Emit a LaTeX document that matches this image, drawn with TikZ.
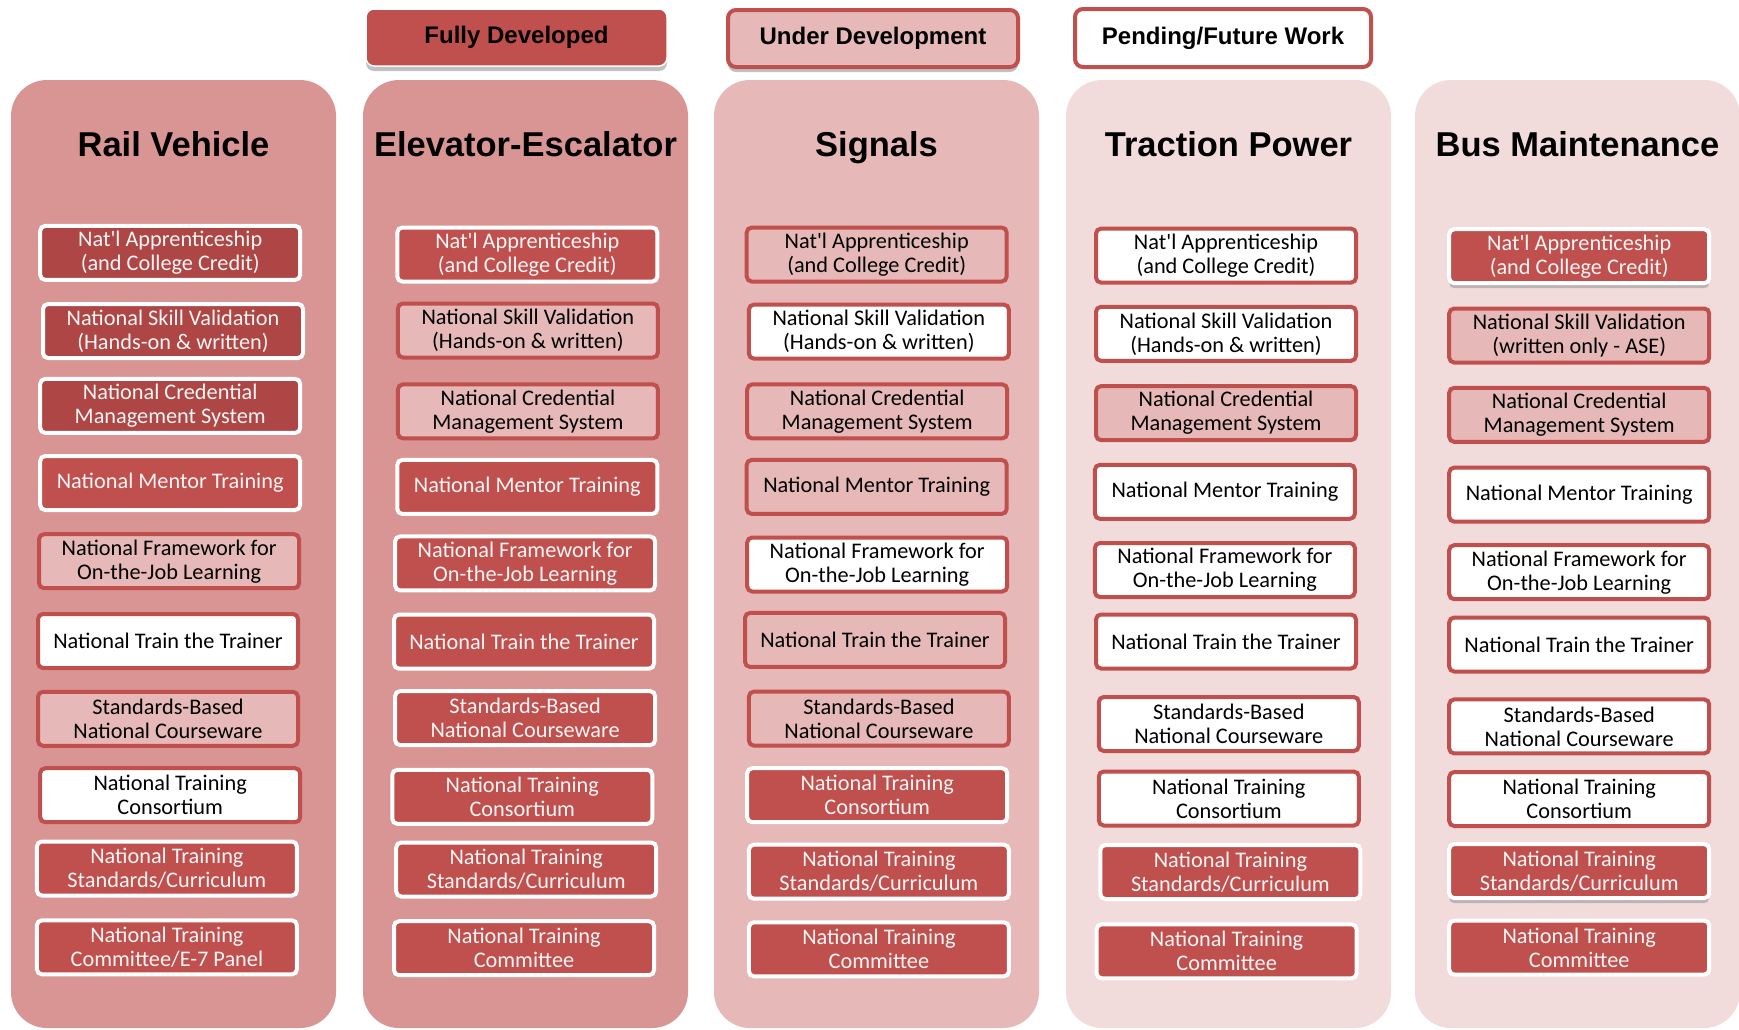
\documentclass[tikz,border=0pt]{standalone}
\usepackage{fontspec}
\setmainfont{Carlito}
\newfontfamily\headfont{Liberation Sans}
\newfontfamily\qfont{Carlito}[Ligatures=TeXOff]
\usetikzlibrary{shadows}
\definecolor{redF}{HTML}{C0504D}
\definecolor{redD}{HTML}{AD4644}
\definecolor{pinkU}{HTML}{E6B9B8}
\definecolor{colA}{HTML}{D99594}
\definecolor{colB}{HTML}{E6B8B7}
\definecolor{colC}{HTML}{F2DCDB}
\newcommand{\apos}{{\qfont'}}
\begin{document}
\begin{tikzpicture}[x=1pt,y=-1pt,
 column/.style={rounded corners=36pt, minimum width=325pt, minimum height=948pt, inner sep=0pt},
 heading/.style={font=\headfont\bfseries\fontsize{34.5}{40}\selectfont, anchor=base, text=black},
 box/.style={rounded corners=5pt, line width=4pt, minimum width=260pt, minimum height=54pt, inner sep=0pt, align=center, font=\fontsize{22.3}{24}\selectfont},
 fullbox/.style={box, fill=redF, draw=white, text=white!96!black},
 darkbox/.style={fullbox, fill=redD},
 devbox/.style={box, fill=pinkU, draw=redF, text=black},
 penbox/.style={box, fill=white, draw=redF, text=black},
 shad/.style={drop shadow={shadow xshift=0pt, shadow yshift=-5pt, fill=black!40, opacity=0.6}},
 legend/.style={rounded corners=8pt, inner sep=0pt, font=\headfont\bfseries\fontsize{24}{28}\selectfont, text=black},
]
\path[use as bounding box] (0,0) rectangle (1739,1029);
\clip (0,0) rectangle (1739,1029);
\fill[white] (0,0) rectangle (1739,1029);

% legend
\node[legend, fill=redF, draw=white, line width=1.5pt, shad, minimum width=301pt, minimum height=57pt] (lf) at (516.5,37.5) {Fully Developed};
\node[legend, fill=pinkU, draw=redF, line width=4pt, shad, minimum width=290pt, minimum height=57pt] (lu) at (873,38.5) {Under Development};
\node[legend, fill=white, draw=redF, line width=4pt, minimum width=296pt, minimum height=58pt] (lp) at (1223,38) {Pending/Future Work};

% columns
\node[column, fill=colA] (c1) at (173.5,554) {};
\node[column, fill=colA] (c2) at (525.5,554) {};
\node[column, fill=colB] (c3) at (876.5,554) {};
\node[column, fill=colC] (c4) at (1228.5,554) {};
\node[column, fill=colC] (c5) at (1577.5,554) {};

% headings
\node[heading] (h1) at (173.5,156) {Rail Vehicle};
\node[heading] (h2) at (525.5,156) {Elevator-Escalator};
\node[heading] (h3) at (876.5,156) {Signals};
\node[heading] (h4) at (1228.5,156) {Traction Power};
\node[heading] (h5) at (1577.5,156) {Bus Maintenance};

% Rail Vehicle
\node[darkbox] (r1) at (170.2,252.9) {Nat\apos l Apprenticeship\\(and College Credit)};
\node[darkbox] (r2) at (173,331) {National Skill Validation\\(Hands-on \& written)};
\node[darkbox] (r3) at (170.2,405.9) {National Credential\\Management System};
\node[fullbox] (r4) at (170.2,483) {National Mentor Training};
\node[devbox] (r5) at (169.1,561.2) {National Framework for\\On-the-Job Learning};
\node[penbox] (r6) at (168,641) {National Train the Trainer};
\node[devbox] (r7) at (168,718.8) {Standards-Based\\National Courseware};
\node[penbox] (r8) at (170.2,795.2) {National Training\\Consortium};
\node[fullbox] (r9) at (166.9,868.5) {National Training\\Standards/Curriculum};
\node[fullbox] (r10) at (166.9,947.3) {National Training\\Committee/E-7 Panel};

% Elevator-Escalator
\node[fullbox] (e1) at (527.3,254.5) {Nat\apos l Apprenticeship\\(and College Credit)};
\node[devbox] (e2) at (527.9,330.5) {National Skill Validation\\(Hands-on \& written)};
\node[devbox] (e3) at (527.9,411.4) {National Credential\\Management System};
\node[fullbox] (e4) at (527.3,486.9) {National Mentor Training};
\node[fullbox] (e5) at (525.1,563.4) {National Framework for\\On-the-Job Learning};
\node[fullbox] (e6) at (524,641.6) {National Train the Trainer};
\node[fullbox] (e7) at (525.1,718.1) {Standards-Based\\National Courseware};
\node[fullbox] (e8) at (522.3,796.8) {National Training\\Consortium};
\node[fullbox] (e9) at (526.2,869.5) {National Training\\Standards/Curriculum};
\node[fullbox] (e10) at (524,948.2) {National Training\\Committee};

% Signals
\node[devbox] (s1) at (876.7,254.5) {Nat\apos l Apprenticeship\\(and College Credit)};
\node[penbox] (s2) at (878.9,331.6) {National Skill Validation\\(Hands-on \& written)};
\node[devbox] (s3) at (877.2,411.4) {National Credential\\Management System};
\node[devbox] (s4) at (876.7,486.9) {National Mentor Training};
\node[penbox] (s5) at (877.2,564.5) {National Framework for\\On-the-Job Learning};
\node[devbox] (s6) at (875,639.9) {National Train the Trainer};
\node[devbox] (s7) at (878.9,718.6) {Standards-Based\\National Courseware};
\node[fullbox] (s8) at (877.2,795.2) {National Training\\Consortium};
\node[fullbox] (s9) at (878.9,871.7) {National Training\\Standards/Curriculum};
\node[fullbox] (s10) at (878.9,949.3) {National Training\\Committee};

% Traction Power
\node[penbox] (t1) at (1226,255.6) {Nat\apos l Apprenticeship\\(and College Credit)};
\node[penbox] (t2) at (1226,333.8) {National Skill Validation\\(Hands-on \& written)};
\node[devbox] (t3) at (1226,413.1) {National Credential\\Management System};
\node[penbox] (t4) at (1224.9,491.8) {National Mentor Training};
\node[penbox] (t5) at (1224.9,570) {National Framework for\\On-the-Job Learning};
\node[penbox] (t6) at (1226,641.5) {National Train the Trainer};
\node[penbox] (t7) at (1228.8,724) {Standards-Based\\National Courseware};
\node[penbox] (t8) at (1228.8,798.5) {National Training\\Consortium};
\node[fullbox] (t9) at (1230.4,872) {National Training\\Standards/Curriculum};
\node[fullbox] (t10) at (1226.6,951.3) {National Training\\Committee};

% Bus Maintenance
\node[fullbox, shad] (b1) at (1579.2,256.2) {Nat\apos l Apprenticeship\\(and College Credit)};
\node[devbox] (b2) at (1579.2,335.5) {National Skill Validation\\(written only - ASE)};
\node[devbox] (b3) at (1579.2,414.8) {National Credential\\Management System};
\node[penbox] (b4) at (1579.2,494.6) {National Mentor Training};
\node[penbox] (b5) at (1579.2,572.2) {National Framework for\\On-the-Job Learning};
\node[penbox] (b6) at (1579.2,644.5) {National Train the Trainer};
\node[penbox] (b7) at (1579.2,726.4) {Standards-Based\\National Courseware};
\node[penbox] (b8) at (1579.2,799) {National Training\\Consortium};
\node[fullbox, shad] (b9) at (1579.2,871.1) {National Training\\Standards/Curriculum};
\node[fullbox] (b10) at (1579.2,947.6) {National Training\\Committee};
\end{tikzpicture}
\end{document}
